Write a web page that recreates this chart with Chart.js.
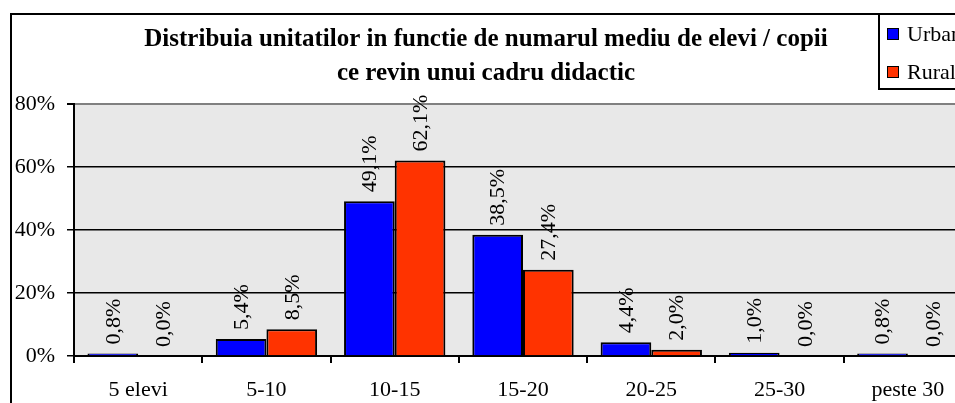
<!DOCTYPE html>
<html>
<head>
<meta charset="utf-8">
<script src="https://cdn.jsdelivr.net/npm/chart.js@4/dist/chart.umd.min.js"></script>
<style>
  html, body { margin: 0; padding: 0; background: #fff; overflow: hidden; }
  #wrap { position: relative; width: 980px; height: 403px; }
</style>
</head>
<body>
<div id="wrap"><canvas id="chart-canvas"></canvas></div>
<script>
var categories = ["5 elevi", "5-10", "10-15", "15-20", "20-25", "25-30", "peste 30"];
var urbanValues = [0.8, 5.4, 49.1, 38.5, 4.4, 1.0, 0.8];
var ruralValues = [0.0, 8.5, 62.1, 27.4, 2.0, 0.0, 0.0];
var titleLines = ["Distribuia unitatilor in functie de numarul mediu de elevi / copii", "ce revin unui cadru didactic"];

var serif = "'Liberation Serif', 'Times New Roman', serif";

// gray plot area + outer frame
var framePlugin = {
    id: "frame",
    beforeDraw: function(chart) {
        var ctx = chart.ctx, a = chart.chartArea;
        ctx.save();
        ctx.fillStyle = "#e8e8e8";
        ctx.fillRect(a.left, a.top, a.right - a.left, a.bottom - a.top);
        ctx.strokeStyle = "#000";
        ctx.lineWidth = 2;
        ctx.beginPath();
        ctx.moveTo(11, chart.height + 5);
        ctx.lineTo(11, 14);
        ctx.lineTo(chart.width + 5, 14);
        ctx.stroke();
        ctx.restore();
    }
};

// rotated value labels above bars
var valueLabels = {
    id: "valueLabels",
    afterDatasetsDraw: function(chart) {
        var ctx = chart.ctx;
        ctx.save();
        ctx.fillStyle = "#000";
        ctx.font = "22px " + serif;
        ctx.textAlign = "left";
        ctx.textBaseline = "middle";
        chart.data.datasets.forEach(function(ds, i) {
            chart.getDatasetMeta(i).data.forEach(function(bar, j) {
                var txt = ds.data[j].toFixed(1).replace(".", ",") + "%";
                ctx.save();
                ctx.translate(bar.x + 1, bar.y - 9);
                ctx.rotate(-Math.PI / 2);
                ctx.fillText(txt, 0, 0);
                ctx.restore();
            });
        });
        ctx.restore();
    }
};

// boxed legend at top right
var boxLegend = {
    id: "boxLegend",
    afterDraw: function(chart) {
        var ctx = chart.ctx;
        ctx.save();
        ctx.fillStyle = "#fff";
        ctx.fillRect(879, 14, 200, 75);
        ctx.strokeStyle = "#000";
        ctx.lineWidth = 2;
        ctx.strokeRect(879, 14, 200, 75);
        ctx.font = "22px " + serif;
        ctx.textBaseline = "middle";
        chart.data.datasets.forEach(function(ds, i) {
            var y = 34 + i * 38;
            ctx.fillStyle = ds.backgroundColor;
            ctx.fillRect(887, y - 6, 12, 12);
            ctx.lineWidth = 1;
            ctx.strokeRect(887.5, y - 5.5, 11, 11);
            ctx.fillStyle = "#000";
            ctx.fillText(ds.label, 907, y + 1);
        });
        ctx.restore();
    }
};

new Chart(document.getElementById("chart-canvas"), {
    type: "bar",
    data: {
        labels: categories,
        datasets: [
            { label: "Urban", data: urbanValues, backgroundColor: "#0000ff", borderColor: "#000", borderWidth: 2 },
            { label: "Rural", data: ruralValues, backgroundColor: "#ff3300", borderColor: "#000", borderWidth: 2 }
        ]
    },
    options: {
        responsive: true,
        maintainAspectRatio: false,
        animation: false,
        layout: { padding: { left: 0, right: 8, top: 0, bottom: 0 } },
        datasets: { bar: { categoryPercentage: 0.79, barPercentage: 1 } },
        plugins: {
            legend: { display: false },
            tooltip: { enabled: false },
            title: {
                display: true,
                text: titleLines,
                color: "#000",
                font: { family: serif, size: 25, weight: "bold", lineHeight: "34px" },
                padding: { top: 23, bottom: 13 }
            }
        },
        scales: {
            x: {
                grid: { display: true, drawOnChartArea: false, color: "#000", lineWidth: 2, tickLength: 7, offset: true },
                border: { color: "#000", width: 2 },
                ticks: { color: "#000", font: { family: serif, size: 22 }, padding: 14, maxRotation: 0 },
                afterFit: function(s) { s.height = 47; }
            },
            y: {
                min: 0,
                max: 80,
                ticks: { stepSize: 20, color: "#000", font: { family: serif, size: 22 }, padding: 12,
                    callback: function(v) { return v + "%"; } },
                grid: {
                    color: function(c) { return c.tick && c.tick.value === 80 ? "#808080" : "#000"; },
                    lineWidth: function(c) { return c.tick && c.tick.value === 80 ? 2 : 1.5; },
                    tickColor: "#000",
                    tickLength: 7
                },
                border: { color: "#000", width: 2 },
                afterFit: function(s) { s.width = 74; }
            }
        }
    },
    plugins: [framePlugin, valueLabels, boxLegend]
});
</script>
</body>
</html>
